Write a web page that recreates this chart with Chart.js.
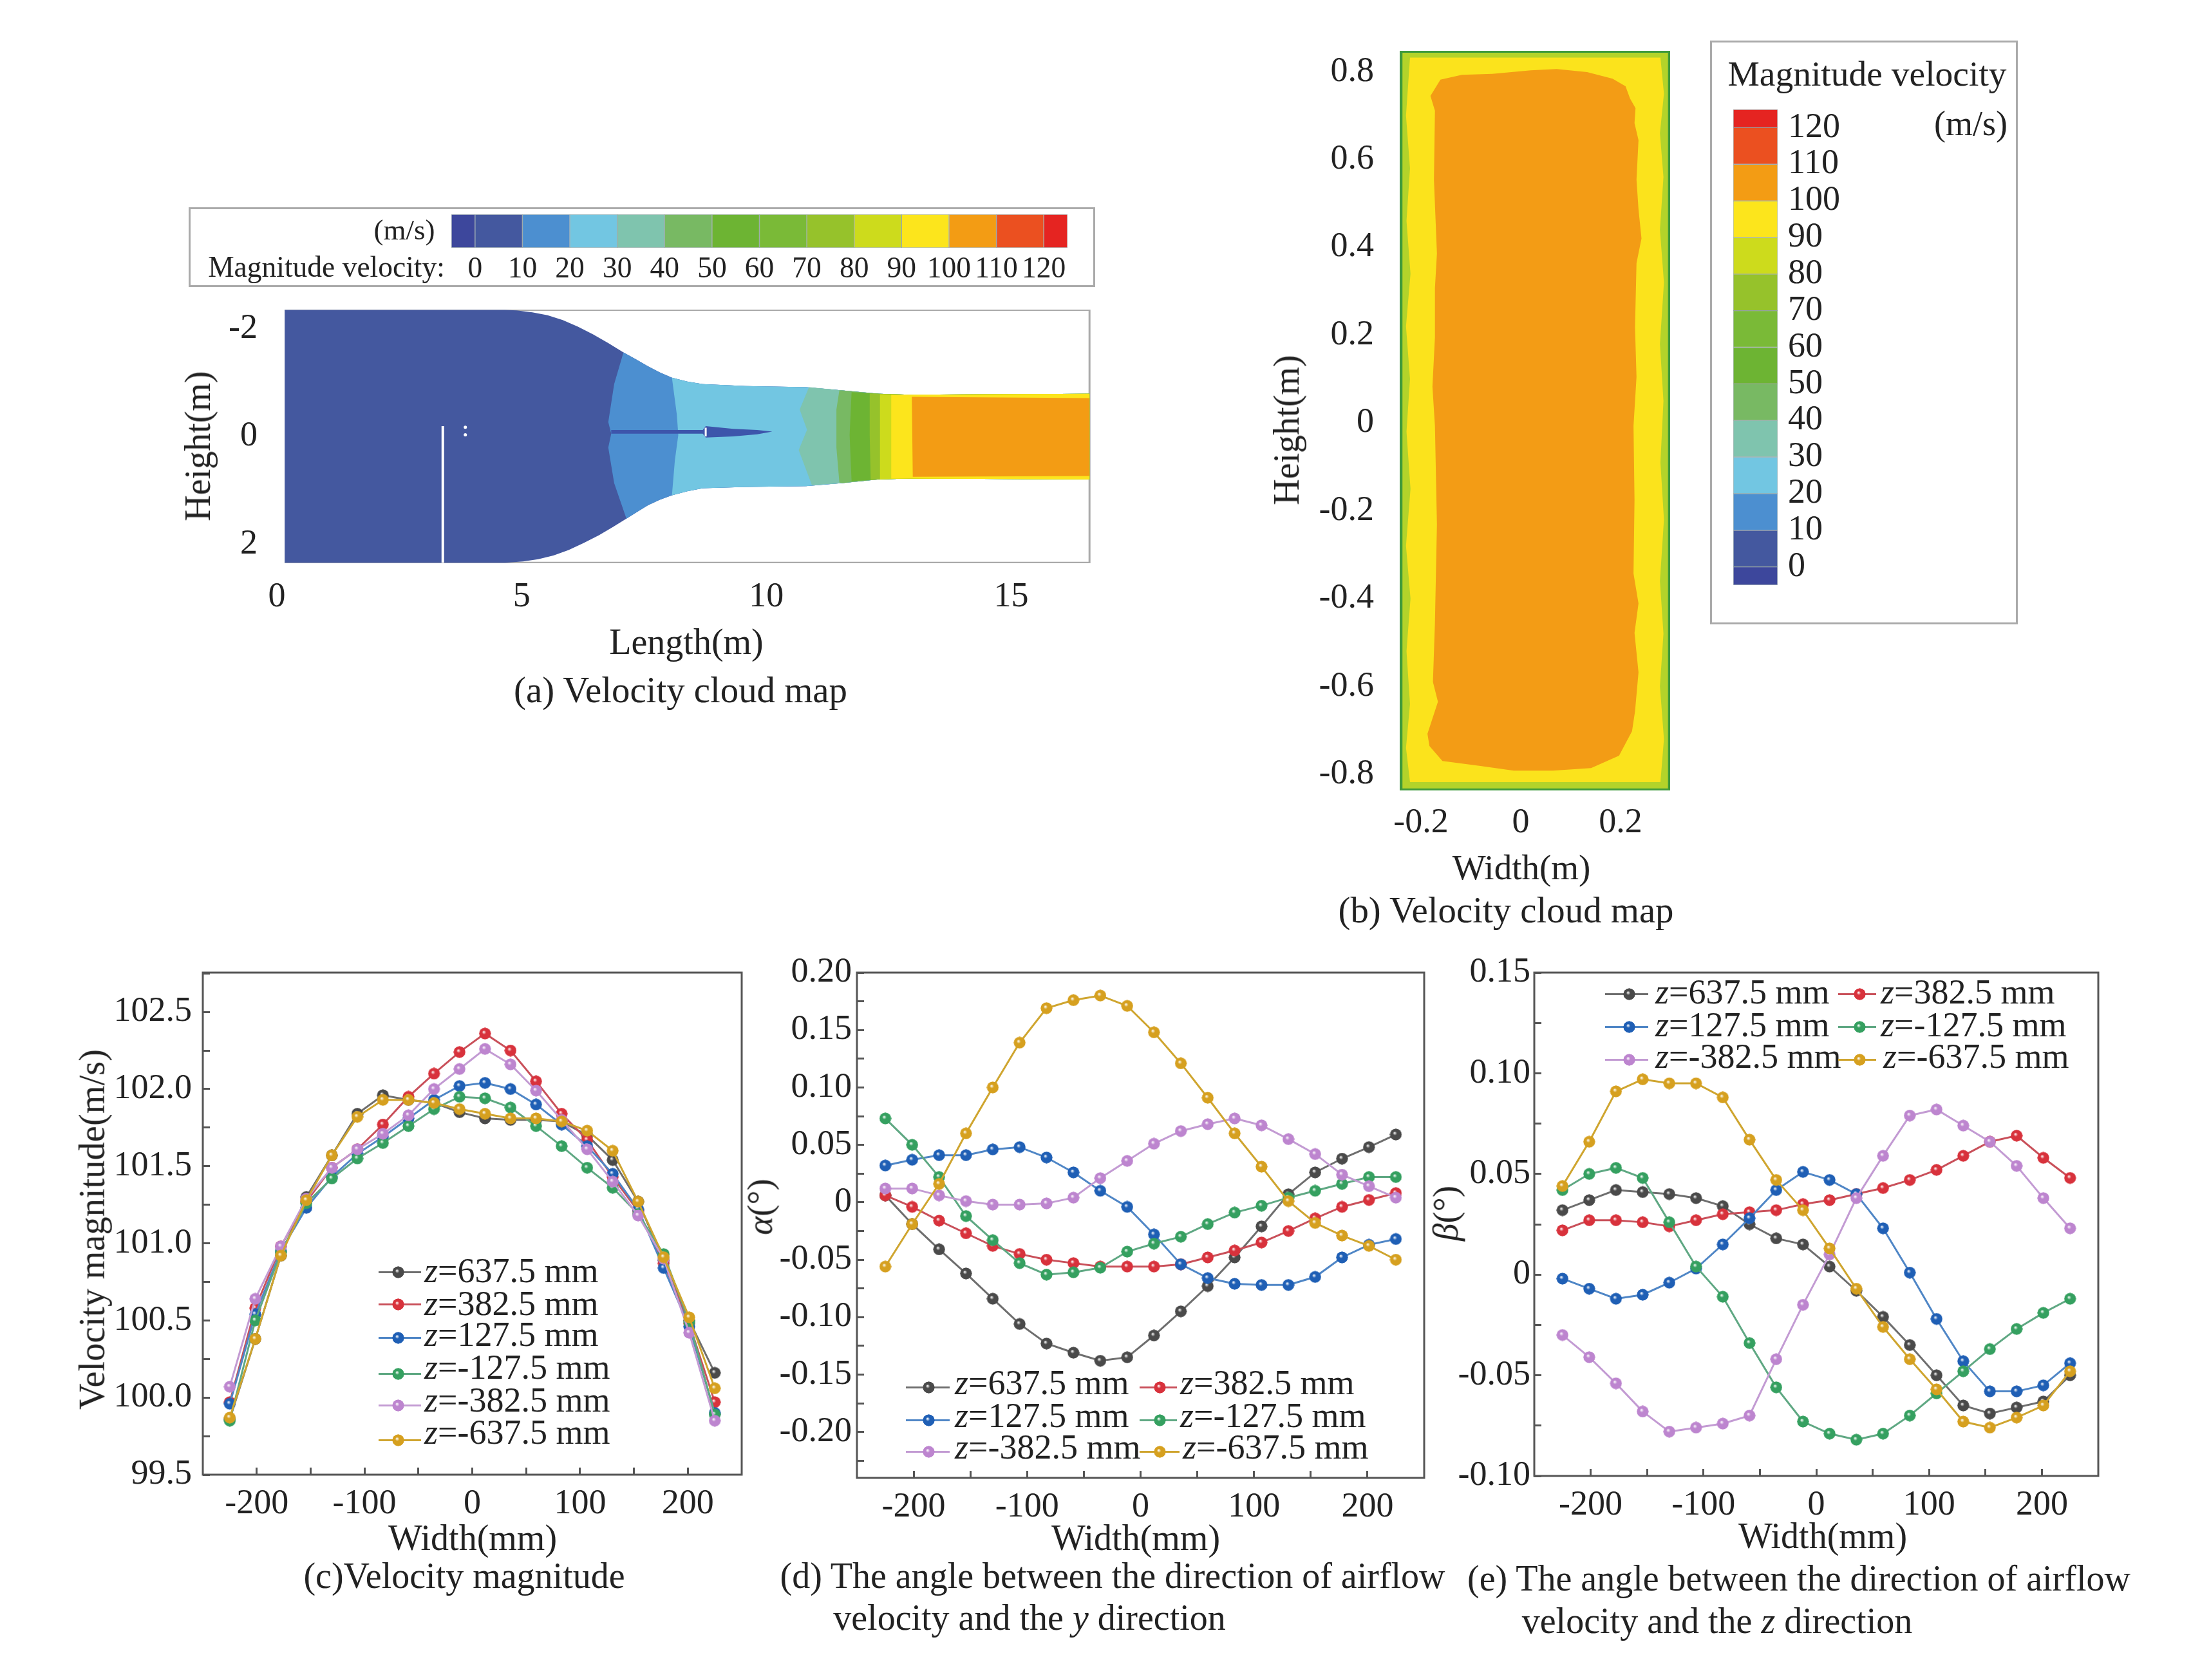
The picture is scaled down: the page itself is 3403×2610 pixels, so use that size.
<!DOCTYPE html>
<html>
<head>
<meta charset="utf-8">
<title>Velocity cloud map and profiles</title>
<script src="https://cdn.jsdelivr.net/npm/chart.js@4/dist/chart.umd.min.js"></script>
<style>
  html, body { margin: 0; background: #fff; }
  #page { position: relative; width: 3403px; height: 2610px; overflow: hidden; font-family: "Liberation Serif", serif; color: #222; }
  canvas { position: absolute; }
  .txt { position: absolute; white-space: nowrap; line-height: 1; transform: translate(-50%, -50%); }
  .left { transform: translate(0, -50%); }
  .rot { transform: translate(-50%, -50%) rotate(-90deg); }
  .panel { position: absolute; background: #fff; border: 3px solid #aaa; box-sizing: border-box; }
  .swatch { position: absolute; height: 3px; }
  img { position: absolute; }
</style>
</head>
<body>
<div id="page"></div>
<script>
// shared x positions of the 20 measuring points (mm)
const widthPos = [-225, -201.3, -177.6, -153.9, -130.3, -106.6, -82.9, -59.2, -35.5, -11.8, 11.8, 35.5, 59.2, 82.9, 106.6, 130.3, 153.9, 177.6, 201.3, 225];
const seriesNames = ['637.5', '382.5', '127.5', '-127.5', '-382.5', '-637.5'];
const ballColors = ['#4a4a4a', '#d8323c', '#1f5fb5', '#35a060', '#bd85cf', '#d6a01f'];
const lineColors = ['#6e6e6e', '#c9505a', '#4f86c6', '#5fa883', '#c39bd3', '#cfa52f'];

// (c) velocity magnitude
const magZ1 = [99.86, 100.38, 100.92, 101.30, 101.57, 101.84, 101.96, 101.93, 101.91, 101.85, 101.81, 101.80, 101.80, 101.79, 101.70, 101.54, 101.27, 100.89, 100.50, 100.16];
const magZ2 = [99.97, 100.58, 100.98, 101.27, 101.49, 101.61, 101.77, 101.95, 102.10, 102.24, 102.36, 102.25, 102.05, 101.84, 101.67, 101.43, 101.21, 100.87, 100.48, 99.97];
const magZ3 = [99.96, 100.54, 100.95, 101.23, 101.43, 101.58, 101.69, 101.81, 101.93, 102.02, 102.04, 102.00, 101.90, 101.77, 101.63, 101.45, 101.22, 100.84, 100.46, 99.90];
const magZ4 = [99.85, 100.50, 100.94, 101.26, 101.42, 101.55, 101.65, 101.76, 101.87, 101.95, 101.94, 101.88, 101.76, 101.63, 101.49, 101.36, 101.19, 100.93, 100.49, 99.89];
const magZ5 = [100.07, 100.64, 100.98, 101.29, 101.49, 101.61, 101.71, 101.83, 102.00, 102.13, 102.26, 102.16, 101.99, 101.80, 101.61, 101.40, 101.18, 100.90, 100.42, 99.85];
const magZ6 = [99.87, 100.38, 100.92, 101.28, 101.57, 101.82, 101.93, 101.93, 101.91, 101.87, 101.84, 101.81, 101.81, 101.79, 101.73, 101.60, 101.27, 100.91, 100.52, 100.06];

// (d) alpha angle
const alphaZ1 = [0.006, -0.019, -0.041, -0.062, -0.084, -0.106, -0.123, -0.131, -0.138, -0.135, -0.116, -0.095, -0.073, -0.048, -0.021, 0.007, 0.026, 0.038, 0.048, 0.059];
const alphaZ2 = [0.006, -0.004, -0.016, -0.027, -0.038, -0.045, -0.050, -0.053, -0.056, -0.056, -0.056, -0.054, -0.048, -0.042, -0.035, -0.025, -0.014, -0.004, 0.002, 0.008];
const alphaZ3 = [0.032, 0.037, 0.041, 0.041, 0.046, 0.048, 0.039, 0.026, 0.010, -0.004, -0.028, -0.054, -0.066, -0.071, -0.072, -0.072, -0.065, -0.048, -0.037, -0.032];
const alphaZ4 = [0.073, 0.050, 0.022, -0.012, -0.033, -0.053, -0.063, -0.061, -0.057, -0.043, -0.036, -0.030, -0.019, -0.009, -0.003, 0.004, 0.010, 0.016, 0.022, 0.022];
const alphaZ5 = [0.012, 0.012, 0.006, 0.001, -0.002, -0.002, -0.001, 0.004, 0.021, 0.036, 0.051, 0.062, 0.068, 0.073, 0.067, 0.055, 0.042, 0.024, 0.014, 0.004];
const alphaZ6 = [-0.056, -0.019, 0.016, 0.060, 0.100, 0.139, 0.169, 0.176, 0.180, 0.171, 0.148, 0.121, 0.091, 0.060, 0.031, 0.001, -0.018, -0.029, -0.038, -0.050];

// (e) beta angle
const betaZ1 = [0.032, 0.037, 0.042, 0.041, 0.040, 0.038, 0.034, 0.025, 0.018, 0.015, 0.004, -0.008, -0.021, -0.035, -0.050, -0.065, -0.069, -0.066, -0.063, -0.050];
const betaZ2 = [0.022, 0.027, 0.027, 0.026, 0.024, 0.027, 0.030, 0.031, 0.032, 0.035, 0.037, 0.040, 0.043, 0.047, 0.052, 0.059, 0.066, 0.069, 0.058, 0.048];
const betaZ3 = [-0.002, -0.007, -0.012, -0.010, -0.004, 0.003, 0.015, 0.028, 0.042, 0.051, 0.047, 0.040, 0.023, 0.001, -0.022, -0.043, -0.058, -0.058, -0.055, -0.044];
const betaZ4 = [0.042, 0.050, 0.053, 0.048, 0.026, 0.004, -0.011, -0.034, -0.056, -0.073, -0.079, -0.082, -0.079, -0.070, -0.059, -0.048, -0.037, -0.027, -0.019, -0.012];
const betaZ5 = [-0.030, -0.041, -0.054, -0.068, -0.078, -0.076, -0.074, -0.070, -0.042, -0.015, 0.010, 0.038, 0.059, 0.079, 0.082, 0.074, 0.066, 0.054, 0.038, 0.023];
const betaZ6 = [0.044, 0.066, 0.091, 0.097, 0.095, 0.095, 0.088, 0.067, 0.047, 0.032, 0.013, -0.007, -0.026, -0.042, -0.057, -0.073, -0.076, -0.071, -0.065, -0.048];

// colour scale, m/s
const bandLow = [-5, 0, 10, 20, 30, 40, 50, 60, 70, 80, 90, 100, 110, 120];
const bandHigh = [0, 10, 20, 30, 40, 50, 60, 70, 80, 90, 100, 110, 120, 125];
const bandColors = ['#3d479c', '#44589f', '#4c8fd0', '#72c6e2', '#7fc4ae', '#78b963', '#6db433', '#7aba37', '#96c22b', '#cddb1c', '#fce51c', '#f39c14', '#eb5020', '#e52421'];
const bandTicks = [0, 10, 20, 30, 40, 50, 60, 70, 80, 90, 100, 110, 120];

// (a) duct section, metres
const ductUpper = [[0.16, -2.345], [4.66, -2.345], [4.90, -2.335], [5.22, -2.30], [5.53, -2.245], [5.84, -2.155], [6.15, -2.035], [6.46, -1.89], [6.77, -1.73], [7.08, -1.558], [7.33, -1.43], [7.58, -1.30], [7.82, -1.187], [8.07, -1.088], [8.38, -1.017], [8.70, -0.97], [9.57, -0.932], [10.81, -0.913], [11.55, -0.852], [12.30, -0.791], [12.92, -0.772], [16.6, -0.791]];
const ductLower = [[0.16, 2.34], [4.66, 2.34], [5.03, 2.316], [5.34, 2.275], [5.65, 2.208], [5.96, 2.105], [6.27, 1.973], [6.58, 1.831], [6.87, 1.676], [7.14, 1.525], [7.35, 1.405], [7.58, 1.276], [7.82, 1.175], [8.07, 1.092], [8.38, 1.017], [8.70, 0.96], [9.57, 0.937], [10.81, 0.923], [11.55, 0.866], [12.30, 0.796], [12.92, 0.782], [16.6, 0.796]];
const edge10 = [[7.08, -1.558], [6.89, -0.97], [6.77, -0.264], [6.83, -0.05], [6.77, 0.207], [6.89, 0.866], [7.14, 1.525]];
const edge20 = [[8.07, -1.088], [8.17, -0.405], [8.20, -0.028], [8.13, 0.443], [8.07, 1.092]];
const edge30 = [[10.87, -0.913], [10.68, -0.499], [10.83, -0.122], [10.66, 0.254], [10.93, 0.904]];
const edge40 = [[11.49, -0.852], [11.43, -0.499], [11.43, 0.207], [11.49, 0.852]];
const edge50 = [[11.74, -0.82], [11.70, -0.028], [11.74, 0.829]];
const edge60 = [[12.11, -0.796], [12.11, -0.028], [12.13, 0.805]];
const edge70 = [[12.32, -0.782], [12.32, 0.796]];
const edge80 = [[12.55, -0.775], [12.55, 0.782]];
const coreOrange = [[12.97, -0.735], [16.6, -0.711], [16.6, 0.734], [12.99, 0.749]];
const wake = [[6.83, -0.12], [8.70, -0.12], [8.76, -0.19], [9.32, -0.14], [9.81, -0.12], [10.12, -0.09], [9.81, -0.04], [9.32, 0], [8.76, 0.02], [8.70, -0.05], [6.83, -0.05]];
const wireLine = [[3.39, -0.19], [3.39, 2.34]];
const wireDots = [[3.85, -0.17], [3.85, -0.03]];
const wakeSlit = [[8.76, -0.16], [8.76, 0]];
const ductFrame = [[0.16, -2.345], [16.6, -2.345], [16.6, 2.34], [0.16, 2.34]];

// (b) outlet section, metres
const outletOuter = [[-0.241, 0.8475], [0.299, 0.8475], [0.299, -0.837], [-0.241, -0.837]];
const outletYellow = [[-0.222, 0.832], [0.280, 0.832], [0.287, 0.75], [0.279, 0.66], [0.286, 0.56], [0.279, 0.44], [0.287, 0.32], [0.279, 0.18], [0.286, 0.05], [0.280, -0.09], [0.287, -0.22], [0.279, -0.36], [0.286, -0.48], [0.279, -0.60], [0.287, -0.72], [0.280, -0.818], [-0.222, -0.818], [-0.230, -0.74], [-0.222, -0.64], [-0.229, -0.52], [-0.221, -0.40], [-0.230, -0.28], [-0.221, -0.15], [-0.229, -0.02], [-0.222, 0.10], [-0.230, 0.22], [-0.221, 0.34], [-0.229, 0.46], [-0.222, 0.58], [-0.230, 0.70]];
const outletCore = [[-0.181, 0.745], [-0.161, 0.782], [-0.118, 0.793], [-0.057, 0.795], [0.020, 0.803], [0.072, 0.806], [0.133, 0.799], [0.184, 0.784], [0.210, 0.767], [0.219, 0.739], [0.230, 0.717], [0.228, 0.683], [0.236, 0.644], [0.232, 0.554], [0.236, 0.487], [0.242, 0.420], [0.232, 0.364], [0.229, 0.218], [0.232, 0.105], [0.226, -0.007], [0.228, -0.175], [0.226, -0.343], [0.236, -0.411], [0.228, -0.478], [0.236, -0.568], [0.229, -0.657], [0.223, -0.702], [0.197, -0.758], [0.141, -0.786], [0.064, -0.792], [-0.014, -0.792], [-0.083, -0.781], [-0.157, -0.770], [-0.183, -0.736], [-0.187, -0.708], [-0.166, -0.635], [-0.176, -0.590], [-0.172, -0.455], [-0.168, -0.231], [-0.172, -0.007], [-0.177, 0.083], [-0.172, 0.195], [-0.172, 0.307], [-0.168, 0.386], [-0.174, 0.554], [-0.172, 0.711]];

const page = document.getElementById('page');
const FONT = 'Liberation Serif';
const toPts = arr => arr.map(p => ({ x: p[0], y: p[1] }));

function addText(html, x, y, size, cls) {
    const el = document.createElement('div');
    el.className = 'txt ' + (cls || '');
    el.style.left = x + 'px';
    el.style.top = y + 'px';
    el.style.fontSize = size + 'px';
    el.innerHTML = html;
    page.appendChild(el);
}

function addPanel(l, t, r, b) {
    const el = document.createElement('div');
    el.className = 'panel';
    el.style.cssText = `left:${l}px;top:${t}px;width:${r - l}px;height:${b - t}px`;
    page.appendChild(el);
}

// canvas holds the plot box plus a fixed margin
function makeCanvas(box, m) {
    const c = document.createElement('canvas');
    c.width = box.r - box.l + m.l + m.r;
    c.height = box.b - box.t + m.t + m.b;
    c.style.left = (box.l - m.l) + 'px';
    c.style.top = (box.t - m.t) + 'px';
    page.appendChild(c);
    return c;
}

// left and bottom axes take exactly the margin, so the plot box lands where it should
function marginFit(m) {
    return scale => {
        if (scale.isHorizontal()) scale.height = m.b;
        else scale.width = scale.position === 'right' ? m.r : m.l;
    };
}

const frameBox = {
    id: 'frameBox',
    afterDatasetsDraw(chart) {
        const a = chart.chartArea, ctx = chart.ctx;
        ctx.save();
        ctx.strokeStyle = '#555';
        ctx.lineWidth = 3;
        ctx.strokeRect(a.left, a.top, a.right - a.left, a.bottom - a.top);
        ctx.restore();
    }
};

function makeBall(color) {
    const c = document.createElement('canvas');
    c.width = c.height = 19;
    const g = c.getContext('2d');
    const grad = g.createRadialGradient(7.5, 7, 0.5, 9.5, 9.5, 9.5);
    grad.addColorStop(0, 'rgba(255,255,255,0.9)');
    grad.addColorStop(0.3, color);
    grad.addColorStop(1, color);
    g.fillStyle = color;
    g.beginPath();
    g.arc(9.5, 9.5, 9, 0, Math.PI * 2);
    g.fill();
    g.fillStyle = grad;
    g.fill();
    return c;
}

function profileChart(box, seriesList, yMin, yMax, yMajor, tickPad) {
    const m = { l: 190, r: 90, t: 90, b: 80 };
    const halfStep = (yMajor[1] - yMajor[0]) / 2;
    new Chart(makeCanvas(box, m), {
        type: 'line',
        data: {
            datasets: seriesList.map((vals, i) => ({
                data: vals.map((v, k) => ({ x: widthPos[k], y: v })),
                borderColor: lineColors[i],
                borderWidth: 3,
                tension: 0,
                pointStyle: makeBall(ballColors[i]),
                pointRadius: 9,
                order: 6 - i
            }))
        },
        plugins: [frameBox],
        options: {
            responsive: false,
            animation: false,
            devicePixelRatio: 1,
            layout: { padding: { left: 0, right: m.r, top: m.t, bottom: 0 } },
            plugins: { legend: { display: false }, tooltip: { enabled: false } },
            scales: {
                x: {
                    type: 'linear', min: -250, max: 250,
                    border: { display: false },
                    grid: { drawOnChartArea: false, tickLength: -11, tickColor: '#555', tickWidth: 3 },
                    afterFit: marginFit(m),
                    afterBuildTicks(s) {
                        s.ticks = [];
                        for (let v = -200; v <= 200; v += 50) s.ticks.push({ value: v });
                    },
                    ticks: {
                        autoSkip: false, maxRotation: 0, padding: 24, color: '#222',
                        font: { family: FONT, size: 54 },
                        callback: v => (v % 100 === 0 ? String(v) : '')
                    }
                },
                y: {
                    min: yMin, max: yMax,
                    border: { display: false },
                    grid: { drawOnChartArea: false, tickLength: -11, tickColor: '#555', tickWidth: 3 },
                    afterFit: marginFit(m),
                    afterBuildTicks(s) {
                        s.ticks = [];
                        yMajor.forEach(v => {
                            s.ticks.push({ value: v, major: true });
                            if (v + halfStep <= yMax) s.ticks.push({ value: v + halfStep });
                        });
                        if (yMajor[0] - halfStep >= yMin) s.ticks.push({ value: yMajor[0] - halfStep });
                    },
                    ticks: {
                        autoSkip: false, padding: 11 + tickPad, color: '#222',
                        font: { family: FONT, size: 54 },
                        callback(v) {
                            if (!yMajor.includes(v)) return '';
                            return v === 0 ? '0' : (yMajor[1] - yMajor[0] >= 0.5 ? v.toFixed(1) : v.toFixed(2));
                        }
                    }
                }
            }
        }
    });
}

function legendRow(i, swL, swR, ballX, rowY, textX, textY) {
    const line = document.createElement('div');
    line.className = 'swatch';
    line.style.cssText = `left:${swL}px;width:${swR - swL}px;top:${rowY - 1}px;background:${lineColors[i]}`;
    page.appendChild(line);
    const img = new Image();
    img.src = makeBall(ballColors[i]).toDataURL();
    img.style.left = (ballX - 9) + 'px';
    img.style.top = (rowY - 9) + 'px';
    page.appendChild(img);
    addText('<i>z</i>=' + seriesNames[i] + ' mm', textX, textY, 54, 'left');
}

function polyDataset(points, color, order) {
    return { data: toPts(points), showLine: true, fill: 'shape', borderWidth: 0, backgroundColor: color, pointRadius: 0, tension: 0, order: order };
}

// a colour band reaches from its left edge to the end of the duct
function bandShape(edge) {
    const first = edge[0], last = edge[edge.length - 1];
    const low = ductLower.filter(p => p[0] > last[0]);
    const up = ductUpper.filter(p => p[0] > first[0]).reverse();
    return edge.concat(low, up);
}

// (a) contour
const ductShapes = [ductUpper.concat(ductLower.slice().reverse()), bandShape(edge10), bandShape(edge20), bandShape(edge30), bandShape(edge40), bandShape(edge50), bandShape(edge60), bandShape(edge70), bandShape(edge80)];
const ductColors = ['#44589f', '#4c8fd0', '#72c6e2', '#7fc4ae', '#78b963', '#6db433', '#96c22b', '#cddb1c', '#fce51c'];
const ductSets = ductShapes.map((s, i) => polyDataset(s, ductColors[i], 100 - i));
ductSets.push(polyDataset(coreOrange, '#f39c14', 80));
ductSets.push(polyDataset(wake, '#3d55ab', 79));
ductSets.push({ data: toPts(wireLine), showLine: true, borderColor: '#fff', borderWidth: 4, pointRadius: 0, order: 78 });
ductSets.push({ data: toPts(wakeSlit), showLine: true, borderColor: '#fff', borderWidth: 3, pointRadius: 0, order: 77 });
ductSets.push({ data: toPts(wireDots), showLine: false, backgroundColor: '#fff', pointRadius: 2.5, borderWidth: 0, order: 76 });
ductSets.push({ data: toPts(ductFrame), showLine: true, borderColor: '#aaa', borderWidth: 3, pointRadius: 0, order: 200 });

const aMargin = { l: 100, r: 90, t: 90, b: 100 };
new Chart(makeCanvas({ l: 430, r: 1696, t: 480.6, b: 875.4 }, aMargin), {
    type: 'scatter',
    data: { datasets: ductSets },
    options: {
        responsive: false, animation: false, devicePixelRatio: 1,
        layout: { padding: { left: 0, right: aMargin.r, top: aMargin.t, bottom: 0 } },
        plugins: { legend: { display: false }, tooltip: { enabled: false } },
        scales: {
            x: {
                type: 'linear', min: 0, max: 16.65,
                border: { display: false }, grid: { display: false, drawTicks: false },
                afterFit: marginFit(aMargin),
                afterBuildTicks(s) { s.ticks = [0, 5, 10, 15].map(v => ({ value: v })); },
                ticks: { autoSkip: false, maxRotation: 0, padding: 20, color: '#222', font: { family: FONT, size: 54 } }
            },
            y: {
                type: 'linear', min: -2.35, max: 2.35, reverse: true,
                border: { display: false }, grid: { display: false, drawTicks: false },
                afterFit: marginFit(aMargin),
                afterBuildTicks(s) { s.ticks = [-2, 0, 2].map(v => ({ value: v })); },
                ticks: { autoSkip: false, padding: 30, color: '#222', font: { family: FONT, size: 54 } }
            }
        }
    }
});

// (b) contour
const bMargin = { l: 190, r: 40, t: 90, b: 100 };
new Chart(makeCanvas({ l: 2174, r: 2594, t: 79, b: 1228.6 }, bMargin), {
    type: 'scatter',
    data: {
        datasets: [
            polyDataset(outletOuter, '#b3d32a', 10),
            polyDataset(outletYellow, '#fbe31c', 9),
            polyDataset(outletCore, '#f39c15', 8),
            { data: toPts(outletOuter.concat([outletOuter[0]])), showLine: true, borderColor: '#3f9a3c', borderWidth: 6, pointRadius: 0, order: 7 }
        ]
    },
    options: {
        responsive: false, animation: false, devicePixelRatio: 1,
        layout: { padding: { left: 0, right: bMargin.r, top: bMargin.t, bottom: 0 } },
        plugins: { legend: { display: false }, tooltip: { enabled: false } },
        scales: {
            x: {
                type: 'linear', min: -0.2426, max: 0.2994,
                border: { display: false }, grid: { display: false, drawTicks: false },
                afterFit: marginFit(bMargin),
                afterBuildTicks(s) { s.ticks = [-0.2, 0, 0.2].map(v => ({ value: v })); },
                ticks: { autoSkip: false, maxRotation: 0, padding: 18, color: '#222', font: { family: FONT, size: 54 }, callback: v => (v === 0 ? '0' : v.toFixed(1)) }
            },
            y: {
                type: 'linear', min: -0.837, max: 0.8475,
                border: { display: false }, grid: { display: false, drawTicks: false },
                afterFit: marginFit(bMargin),
                afterBuildTicks(s) { s.ticks = [-0.8, -0.6, -0.4, -0.2, 0, 0.2, 0.4, 0.6, 0.8].map(v => ({ value: v })); },
                ticks: { autoSkip: false, padding: 40, color: '#222', font: { family: FONT, size: 54 }, callback: v => (v === 0 ? '0' : v.toFixed(1)) }
            }
        }
    }
});

function colorBar(box, m, horizontal, fontSize, pad, labelOffset) {
    const valueScale = {
        type: 'linear', min: -5, max: 125,
        position: horizontal ? 'bottom' : 'right',
        border: { display: false }, grid: { display: false, drawTicks: false },
        afterFit: marginFit(m),
        afterBuildTicks(s) { s.ticks = bandTicks.map(v => ({ value: v })); },
        ticks: { autoSkip: false, maxRotation: 0, padding: pad, labelOffset: labelOffset, color: '#222', font: { family: FONT, size: fontSize } }
    };
    const catScale = { type: 'category', labels: [''], display: false };
    new Chart(makeCanvas(box, m), {
        type: 'bar',
        data: {
            labels: [''],
            datasets: bandLow.map((lo, i) => ({
                data: [[lo, bandHigh[i]]],
                backgroundColor: bandColors[i],
                borderColor: 'rgba(30,60,60,0.35)',
                borderWidth: 1,
                borderSkipped: false,
                grouped: false,
                barPercentage: 1,
                categoryPercentage: 1
            }))
        },
        options: {
            indexAxis: horizontal ? 'y' : 'x',
            responsive: false, animation: false, devicePixelRatio: 1,
            layout: {
                padding: horizontal ? { left: m.l, right: m.r, top: m.t, bottom: 0 } : { left: m.l, right: 0, top: m.t, bottom: m.b }
            },
            plugins: { legend: { display: false }, tooltip: { enabled: false } },
            scales: horizontal ? { x: valueScale, y: catScale } : { x: catScale, y: valueScale }
        }
    });
}

addPanel(293, 322, 1701, 446);
colorBar({ l: 701, r: 1658, t: 333, b: 385 }, { l: 40, r: 40, t: 5, b: 60 }, true, 45.5, 7, 0);
addText('(m/s)', 628, 357, 45);
addText('Magnitude velocity:', 507, 415, 45.5);

addPanel(2656, 63, 3134, 970);
colorBar({ l: 2692, r: 2761, t: 170, b: 909 }, { l: 5, r: 120, t: 90, b: 60 }, false, 54, 16, 0);
addText('Magnitude velocity', 2900, 115, 55.5);
addText('(m/s)', 3061, 192, 54);

profileChart({ l: 315, r: 1152, t: 1511, b: 2291 }, [magZ1, magZ2, magZ3, magZ4, magZ5, magZ6], 99.5, 102.755, [99.5, 100, 100.5, 101, 101.5, 102, 102.5], 17);
profileChart({ l: 1331, r: 2212, t: 1511, b: 2296 }, [alphaZ1, alphaZ2, alphaZ3, alphaZ4, alphaZ5, alphaZ6], -0.24, 0.2, [-0.2, -0.15, -0.1, -0.05, 0, 0.05, 0.1, 0.15, 0.2], 8);
profileChart({ l: 2383, r: 3259, t: 1511, b: 2293 }, [betaZ1, betaZ2, betaZ3, betaZ4, betaZ5, betaZ6], -0.1, 0.15, [-0.1, -0.05, 0, 0.05, 0.1, 0.15], 6);

// legends
const cRows = [1976, 2026, 2078, 2134, 2183, 2237];
const cText = [1974, 2025, 2073, 2124, 2175, 2225];
cRows.forEach((y, i) => legendRow(i, 588, 654, 618, y, 659, cText[i]));
[[0, 1407, 1475, 1442, 2155, 1483, 2148], [1, 1770, 1828, 1801, 2155, 1833, 2148], [2, 1407, 1475, 1442, 2206, 1483, 2199], [3, 1770, 1828, 1801, 2206, 1833, 2199], [4, 1407, 1475, 1442, 2255, 1483, 2248], [5, 1770, 1832, 1801, 2255, 1837, 2248]].forEach(r => legendRow(...r));
[[0, 2493, 2560, 2530, 1544, 2571, 1541], [1, 2855, 2914, 2888, 1544, 2921, 1541], [2, 2493, 2560, 2530, 1595, 2571, 1592], [3, 2855, 2914, 2888, 1595, 2921, 1592], [4, 2493, 2560, 2530, 1646, 2571, 1641], [5, 2855, 2914, 2888, 1646, 2925, 1641]].forEach(r => legendRow(...r));

// axis titles and captions
addText('Length(m)', 1066, 997, 56);
addText('Height(m)', 307, 693, 56, 'rot');
addText('(a) Velocity cloud map', 1057, 1072, 56.8);
addText('Width(m)', 2363, 1347, 55);
addText('Height(m)', 1998, 668, 56, 'rot');
addText('(b) Velocity cloud map', 2339, 1414, 56.8);
addText('Velocity magnitude(m/s)', 143, 1910, 56.5, 'rot');
addText('Width(mm)', 734, 2389, 56);
addText('(c)Velocity magnitude', 721, 2448, 56);
addText('<i>α</i>(°)', 1180, 1875, 55, 'rot');
addText('Width(mm)', 1764, 2389, 56);
addText('(d) The angle between the direction of airflow', 1728, 2448, 56);
addText('velocity and the <i>y</i> direction', 1599, 2513, 56);
addText('<i>β</i>(°)', 2245, 1885, 55, 'rot');
addText('Width(mm)', 2831, 2386, 56);
addText('(e) The angle between the direction of airflow', 2794, 2452, 56);
addText('velocity and the <i>z</i> direction', 2667, 2518, 56);
</script>
</body>
</html>
